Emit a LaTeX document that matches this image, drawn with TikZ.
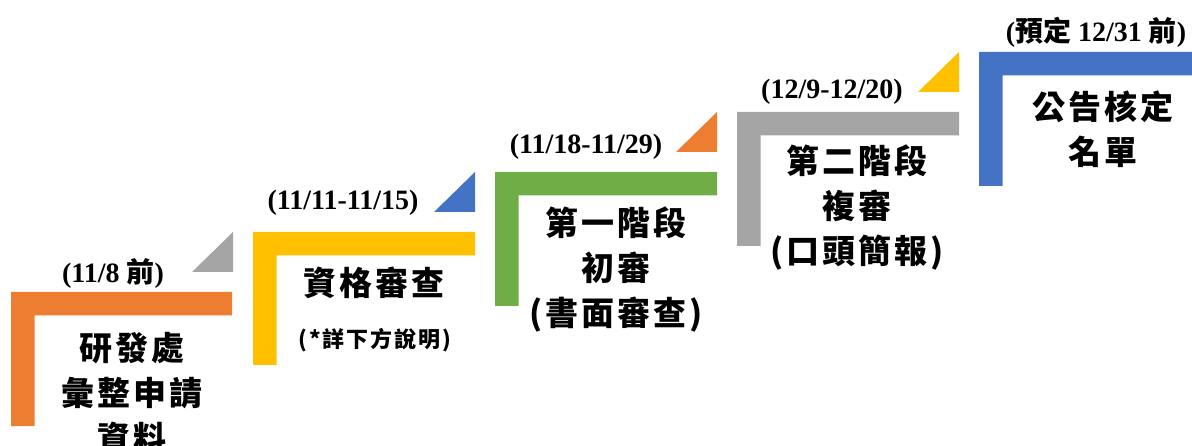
\documentclass[tikz,border=0pt]{standalone}
\usepackage{fontspec}
\setmainfont{Liberation Serif}
\newfontfamily\cjk[LetterSpace=9]{Noto Sans CJK TC}
\newfontfamily\cjkd{Noto Sans CJK TC}
\definecolor{cOrange}{HTML}{ED7D31}
\definecolor{cYellow}{HTML}{FFC000}
\definecolor{cGreen}{HTML}{70AD47}
\definecolor{cGray}{HTML}{A5A5A5}
\definecolor{cBlue}{HTML}{4472C4}
\begin{document}
\begin{tikzpicture}[x=1pt,y=-1pt,
  datelbl/.style={inner sep=0pt,font=\fontsize{28}{30}\selectfont\bfseries},
  mainlbl/.style={inner sep=0pt,align=center,font=\fontsize{33}{45}\selectfont\cjk\bfseries},
  smalllbl/.style={inner sep=0pt,align=center,font=\fontsize{22}{26}\selectfont\cjk\bfseries}]
\useasboundingbox (0,0) rectangle (1192,446);
\begin{scope}
\clip (0,0) rectangle (1192,446);
% L shapes: left, top, right, bottom, thickness 23.5
\def\Lshape#1#2#3#4#5{\fill[#1] (#2,#3) -- (#4,#3) -- (#4,#3+23.5) -- (#2+23.5,#3+23.5) -- (#2+23.5,#5) -- (#2,#5) -- cycle;}
\Lshape{cOrange}{11}{292}{232}{426}
\Lshape{cYellow}{253}{232}{475}{365}
\Lshape{cGreen}{495}{172}{717}{306}
\Lshape{cGray}{737}{112}{959}{246}
\Lshape{cBlue}{979}{52}{1205}{186}
% triangles
\fill[cGray] (192,272) -- (233,272) -- (233,232) -- cycle;
\fill[cBlue] (434,212) -- (475,212) -- (475,172) -- cycle;
\fill[cOrange] (676,152) -- (717,152) -- (717,112) -- cycle;
\fill[cYellow] (918,92) -- (959,92) -- (959,52) -- cycle;
\end{scope}
% date labels
\node[datelbl] (d1) at (113,273) {(11/8 {\cjkd\bfseries 前})};
\node[datelbl] (d2) at (343,203) {(11/11-11/15)};
\node[datelbl] (d3) at (586,147) {(11/18-11/29)};
\node[datelbl] (d4) at (832,92) {(12/9-12/20)};
\node[datelbl] (d5) at (1096,32) {({\cjkd\bfseries 預定} 12/31 {\cjkd\bfseries 前})};
% main labels
\node[mainlbl] (t1) at (132,393) {研發處\\彙整申請\\資料};
\node[mainlbl] (t2) at (374,283) {資格審查};
\node[smalllbl] (t2b) at (375,340) {(*詳下方說明)};
\node[mainlbl] (t3) at (616,270) {第一階段\\初審\\(書面審查)};
\node[mainlbl] (t4) at (857,208) {第二階段\\複審\\(口頭簡報)};
\node[mainlbl] (t5) at (1103,129) {公告核定\\名單};
\end{tikzpicture}
\end{document}
